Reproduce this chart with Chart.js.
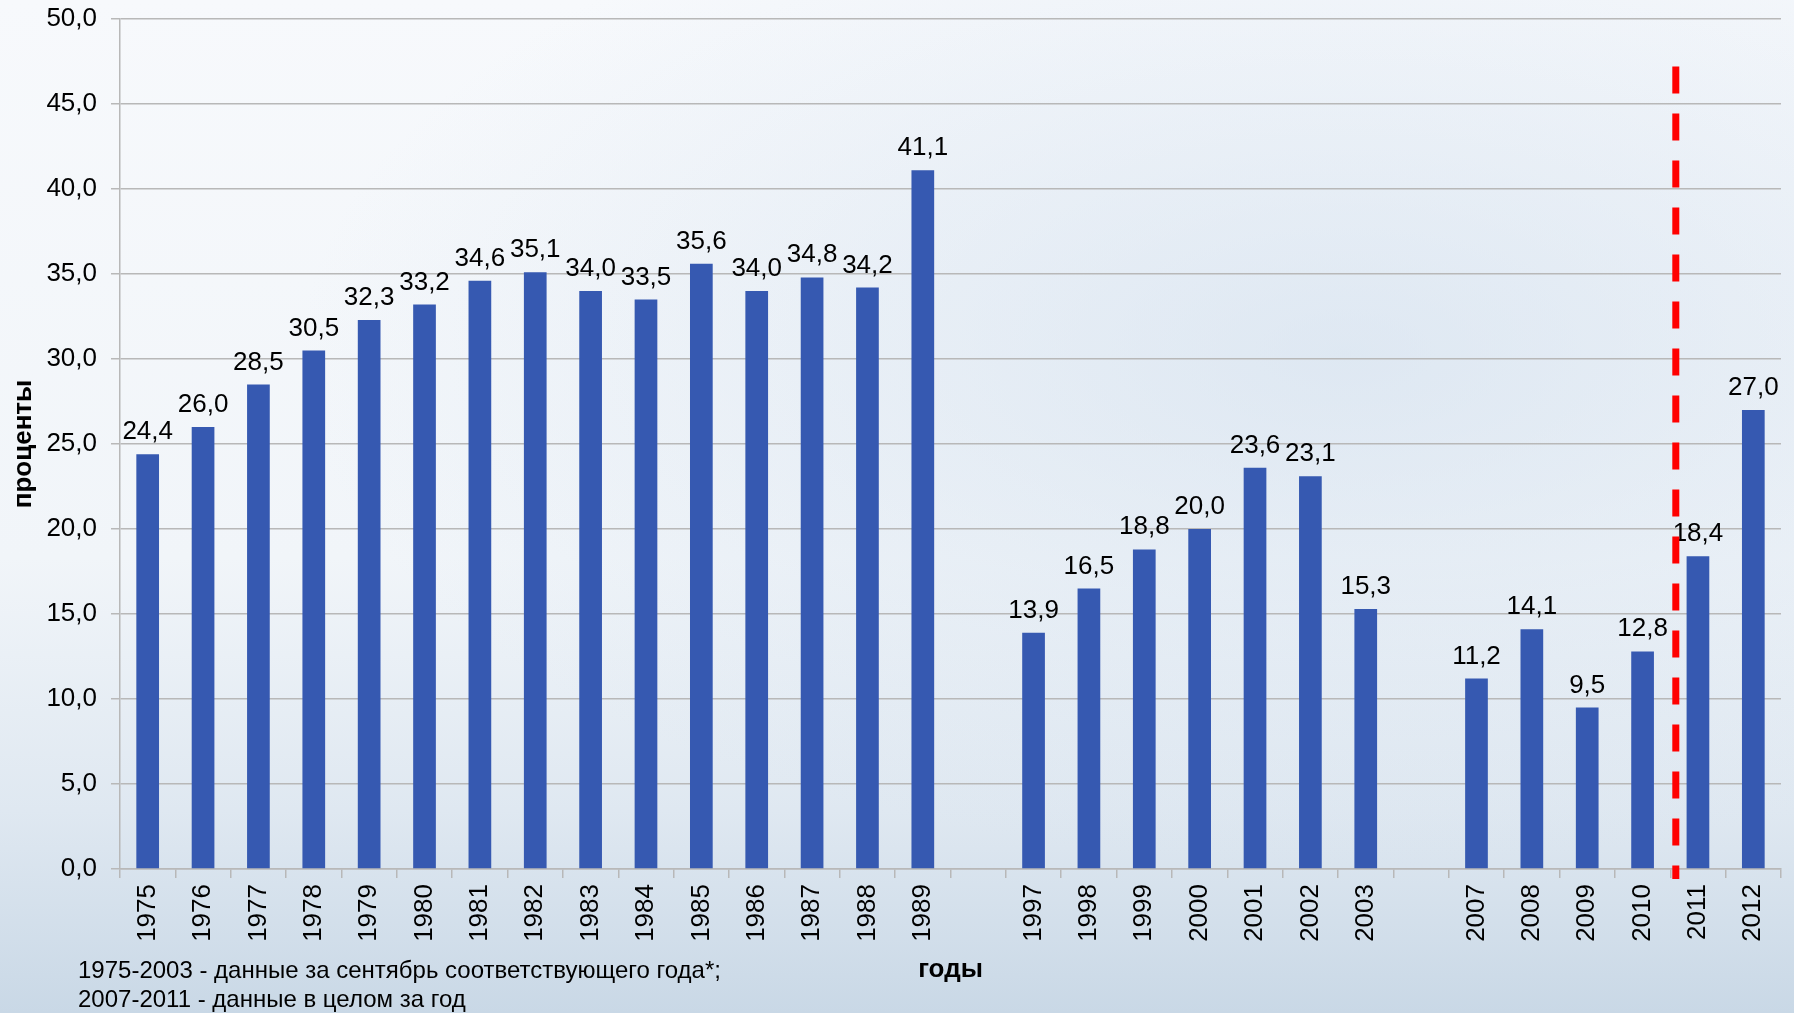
<!DOCTYPE html>
<html lang="ru">
<head>
    <meta charset="UTF-8">
    <title>проценты по годам</title>
    <style>
        body {
            margin: 0;
            padding: 0;
            font-family: "Liberation Sans", Arial, sans-serif;
            background: #f4f7fa;
        }
        .wrap {
            position: relative;
            width: 1794px;
            height: 1013px;
            overflow: hidden;
            background:
                radial-gradient(ellipse at 75% 35%, rgba(205, 220, 236, 0.55), rgba(205, 220, 236, 0) 55%),
                linear-gradient(to bottom, #f7f9fc 0%, #f1f5f9 55%, #dfe8f1 80%, #c9d8e6 100%);
        }
        canvas {
            position: absolute;
            left: 0;
            top: 0;
        }
        .note {
            position: absolute;
            left: 78px;
            top: 955px;
            font-size: 24px;
            line-height: 29px;
            color: #000;
        }
    </style>
</head>
<body>
    <div class="wrap">
        <canvas id="chart" width="1794" height="1013"></canvas>
        <div class="note">1975-2003 - данные за сентябрь соответствующего года*;<br>2007-2011 - данные в целом за год</div>
    </div>

    <script src="https://cdn.jsdelivr.net/npm/chart.js"></script>
    <script>
        // empty strings are the gaps between the periods
        const years = ['1975', '1976', '1977', '1978', '1979', '1980', '1981', '1982', '1983', '1984',
            '1985', '1986', '1987', '1988', '1989', '',
            '1997', '1998', '1999', '2000', '2001', '2002', '2003', '',
            '2007', '2008', '2009', '2010', '2011', '2012'];
        const percents = [24.4, 26.0, 28.5, 30.5, 32.3, 33.2, 34.6, 35.1, 34.0, 33.5,
            35.6, 34.0, 34.8, 34.2, 41.1, null,
            13.9, 16.5, 18.8, 20.0, 23.6, 23.1, 15.3, null,
            11.2, 14.1, 9.5, 12.8, 18.4, 27.0];
        const yTicks = [0, 5, 10, 15, 20, 25, 30, 35, 40, 45, 50];
        // red dashed divider sits between 2010 and 2011 (category index units)
        const splitAt = 27.6;
        const splitTop = 47.2;

        const fmt = v => v.toFixed(1).replace('.', ',');
        const FONT = '"Liberation Sans", Arial, sans-serif';

        const valueLabels = {
            id: 'valueLabels',
            afterDatasetsDraw(chart) {
                const ctx = chart.ctx;
                const meta = chart.getDatasetMeta(0);
                ctx.save();
                ctx.font = '26px ' + FONT;
                ctx.fillStyle = '#000';
                ctx.textAlign = 'center';
                ctx.textBaseline = 'alphabetic';
                meta.data.forEach((bar, i) => {
                    const v = percents[i];
                    if (v === null) return;
                    ctx.fillText(fmt(v), bar.x, bar.y - 15);
                });
                ctx.restore();
            }
        };

        const divider = {
            id: 'divider',
            afterDatasetsDraw(chart) {
                const ctx = chart.ctx;
                const x = chart.scales.x.getPixelForValue(splitAt);
                const top = chart.scales.y.getPixelForValue(splitTop);
                const bottom = chart.chartArea.bottom + 10;
                ctx.save();
                ctx.strokeStyle = '#ff0000';
                ctx.lineWidth = 7;
                ctx.setLineDash([27, 20]);
                ctx.beginPath();
                ctx.moveTo(x, top);
                ctx.lineTo(x, bottom);
                ctx.stroke();
                ctx.restore();
            }
        };

        new Chart(document.getElementById('chart'), {
            type: 'bar',
            data: {
                labels: years,
                datasets: [{
                    data: percents,
                    backgroundColor: '#3659b1',
                    barPercentage: 1,
                    categoryPercentage: 0.41
                }]
            },
            options: {
                responsive: false,
                animation: false,
                layout: { padding: { top: 19, right: 13, left: 0, bottom: 0 } },
                plugins: {
                    legend: { display: false },
                    tooltip: { enabled: false }
                },
                scales: {
                    x: {
                        grid: {
                            drawOnChartArea: false,
                            drawTicks: true,
                            tickLength: 9,
                            color: '#b8b8b8',
                            lineWidth: 1.5
                        },
                        border: { color: '#b8b8b8', width: 1.5 },
                        ticks: {
                            minRotation: 90,
                            maxRotation: 90,
                            autoSkip: false,
                            padding: 6,
                            color: '#000',
                            font: { family: FONT, size: 26 }
                        },
                        title: {
                            display: true,
                            text: 'годы',
                            color: '#000',
                            font: { family: FONT, size: 26, weight: 'bold' },
                            padding: { top: 0, bottom: 28 }
                        },
                        afterFit(scale) { scale.height = 144; }
                    },
                    y: {
                        min: 0,
                        max: 50,
                        afterBuildTicks(scale) { scale.ticks = yTicks.map(v => ({ value: v })); },
                        grid: {
                            color: '#b8b8b8',
                            lineWidth: 1.5,
                            tickLength: 9
                        },
                        border: { color: '#b8b8b8', width: 1.5 },
                        ticks: {
                            padding: 14,
                            color: '#000',
                            font: { family: FONT, size: 26 },
                            callback: v => fmt(v)
                        },
                        title: {
                            display: true,
                            text: 'проценты',
                            color: '#000',
                            font: { family: FONT, size: 26, weight: 'bold' },
                            padding: { top: 8, bottom: 0 }
                        },
                        afterFit(scale) {
                            scale.width = 120;
                            scale.paddingTop = 0;
                            scale.paddingBottom = 0;
                        }
                    }
                }
            },
            plugins: [valueLabels, divider]
        });
    </script>
</body>
</html>
